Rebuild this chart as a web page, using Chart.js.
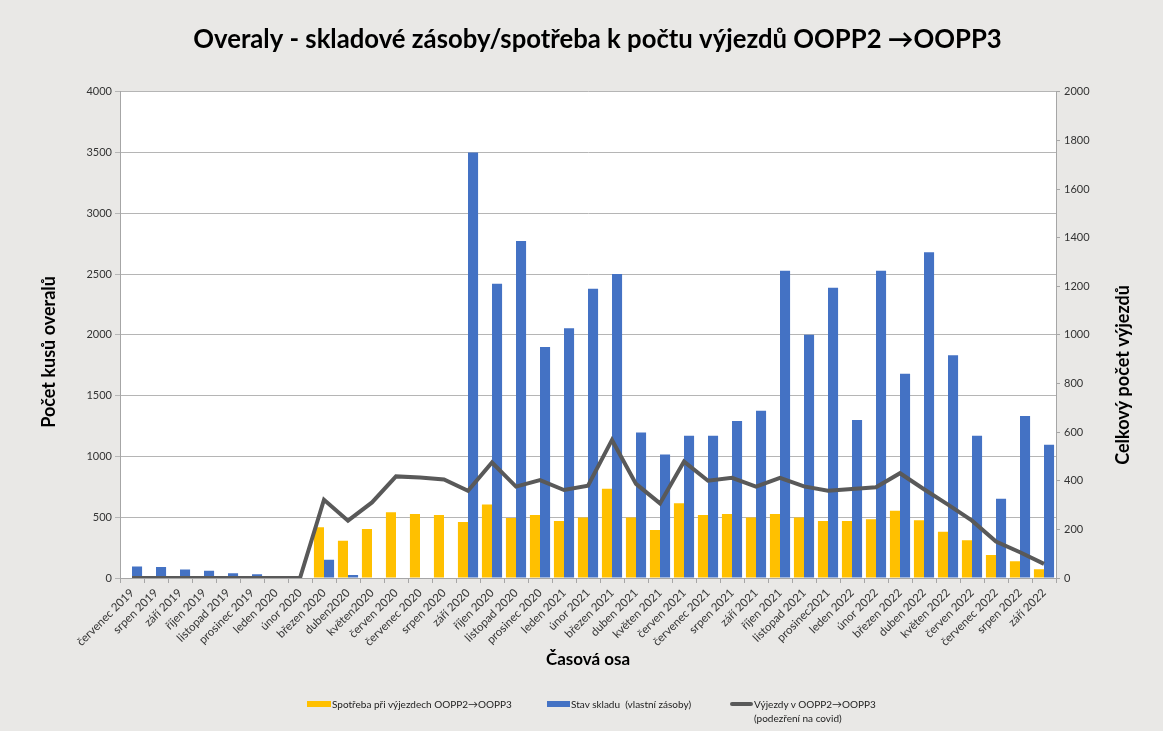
<!DOCTYPE html>
<html>
<head>
<meta charset="utf-8">
<script src="https://cdn.jsdelivr.net/npm/chart.js@4.4.1/dist/chart.umd.min.js"></script>
<style>
  html, body { margin: 0; padding: 0; background: #e9e8e6; }
  #wrap { position: relative; width: 1163px; height: 731px; }
  #legend { position: absolute; left: 0; top: 0; width: 1163px; height: 731px; pointer-events: none;
            font-family: Lato, sans-serif; font-size: 10px; color: #222; }
  .item { position: absolute; white-space: nowrap; line-height: 14px; }
  .sw { position: absolute; }
</style>
</head>
<body>
<div id="wrap">
  <canvas id="chart" width="1163" height="731"></canvas>
  <div id="legend">
    <div class="sw" style="left:307px;top:701px;width:24px;height:6px;background:#ffc000"></div>
    <div class="item" style="left:332px;top:697px">Spotřeba při výjezdech OOPP2→OOPP3</div>
    <div class="sw" style="left:547px;top:701px;width:23px;height:6px;background:#4472c4"></div>
    <div class="item" style="left:571px;top:697px">Stav skladu&nbsp; (vlastní zásoby)</div>
    <div class="sw" style="left:730px;top:702px;width:23px;height:4px;background:#595959;border-radius:2px"></div>
    <div class="item" style="left:754px;top:697px">Výjezdy v OOPP2→OOPP3<br>(podezření na covid)</div>
  </div>
</div>
<script>
const categories = [
  'červenec 2019', 'srpen 2019', 'září 2019', 'říjen 2019', 'listopad 2019', 'prosinec 2019',
  'leden 2020', 'únor 2020', 'březen 2020', 'duben2020', 'květen2020', 'červen 2020',
  'červenec 2020', 'srpen 2020', 'září 2020', 'říjen 2020', 'listopad 2020', 'prosinec 2020',
  'leden 2021', 'únor 2021', 'březen 2021', 'duben 2021', 'květen 2021', 'červen 2021',
  'červenec 2021', 'srpen 2021', 'září 2021', 'říjen 2021', 'listopad 2021', 'prosinec2021',
  'leden 2022', 'únor 2022', 'březen 2022', 'duben 2022', 'květen 2022', 'červen 2022',
  'červenec 2022', 'srpen 2022', 'září 2022'
];

// Spotřeba při výjezdech (levá osa)
const spotreba = [
  0, 0, 0, 0, 0, 0, 0, 0, 417, 307, 403, 540,
  527, 518, 461, 604, 494, 518, 469, 497, 735, 497, 395, 614,
  518, 527, 497, 527, 497, 469, 469, 483, 554, 475, 381, 310,
  189, 137, 71
];

// Stav skladu (levá osa)
const sklad = [
  95, 90, 70, 60, 40, 30, 0, 0, 150, 25, 0, 0,
  0, 0, 3500, 2420, 2773, 1900, 2055, 2380, 2502, 1198, 1017, 1171,
  1171, 1292, 1377, 2527, 2002, 2389, 1300, 2527, 1681, 2680, 1833, 1171,
  652, 1333, 1097
];

// Výjezdy (pravá osa)
const vyjezdy = [
  0, 0, 0, 0, 0, 0, 0, 0, 322, 236, 311, 418,
  413, 405, 359, 475, 376, 403, 362, 380, 568, 387, 307, 479,
  400, 412, 376, 412, 377, 359, 366, 373, 431, 365, 302, 236,
  150, 106, 58
];

const leftMax = 4000, leftStep = 500;
const rightMax = 2000, rightStep = 200;

const chartTitle = 'Overaly - skladové zásoby/spotřeba k počtu výjezdů OOPP2 →OOPP3';
const leftTitle = 'Počet kusů overalů';
const rightTitle = 'Celkový počet výjezdů';

const FONT = 'Lato, "Open Sans", sans-serif';
const AXIS = '#a6a6a6';

const plotBg = {
  id: 'plotBg',
  beforeDraw(chart) {
    const { ctx, chartArea: a } = chart;
    ctx.save();
    ctx.fillStyle = '#ffffff';
    ctx.fillRect(a.left, a.top, a.right - a.left, a.bottom - a.top);
    ctx.restore();
  }
};

// both y titles read bottom-to-top, like in Excel
const axisTitles = {
  id: 'axisTitles',
  afterDraw(chart) {
    const ctx = chart.ctx;
    const a = chart.chartArea;
    const mid = (a.top + a.bottom) / 2;
    ctx.save();
    ctx.font = 'bold 18px ' + FONT;
    ctx.fillStyle = '#000';
    ctx.textAlign = 'center';
    ctx.textBaseline = 'middle';
    [[a.left - 71, mid + 17, leftTitle], [a.right + 67, mid + 40, rightTitle]].forEach(([x, y, t]) => {
      ctx.save();
      ctx.translate(x, y);
      ctx.rotate(-Math.PI / 2);
      ctx.fillText(t, 0, 0);
      ctx.restore();
    });
    ctx.restore();
  }
};

new Chart(document.getElementById('chart'), {
  type: 'bar',
  data: {
    labels: categories,
    datasets: [
      {
        type: 'line',
        label: 'Výjezdy v OOPP2→OOPP3 (podezření na covid)',
        data: vyjezdy,
        yAxisID: 'y1',
        borderColor: '#595959',
        borderWidth: 4,
        pointRadius: 0,
        tension: 0,
        order: 0
      },
      {
        label: 'Spotřeba při výjezdech OOPP2→OOPP3',
        data: spotreba,
        backgroundColor: '#ffc000',
        yAxisID: 'y',
        order: 1
      },
      {
        label: 'Stav skladu (vlastní zásoby)',
        data: sklad,
        backgroundColor: '#4472c4',
        yAxisID: 'y',
        order: 1
      }
    ]
  },
  options: {
    responsive: false,
    animation: false,
    datasets: { bar: { barPercentage: 1, categoryPercentage: 0.84 } },
    layout: { padding: { left: 32, right: 0, top: 0, bottom: 53 } },
    plugins: {
      legend: { display: false },
      tooltip: { enabled: false },
      title: {
        display: true,
        text: chartTitle,
        color: '#000',
        font: { family: FONT, size: 25.7, weight: 'bold' },
        padding: { top: 24, bottom: 37 }
      }
    },
    scales: {
      x: {
        grid: { offset: true, drawOnChartArea: false, drawTicks: true, tickLength: 5, color: AXIS },
        border: { color: AXIS },
        ticks: {
          autoSkip: false, minRotation: 45, maxRotation: 45, padding: 3,
          color: '#333', font: { family: FONT, size: 11.5 }
        },
        title: {
          display: true, text: 'Časová osa', color: '#000',
          font: { family: FONT, size: 17, weight: 'bold' },
          padding: { top: 4, bottom: 8 }
        },
        afterFit(s) { s.height = 100; }
      },
      y: {
        position: 'left',
        min: 0, max: leftMax,
        grid: { color: '#b5b5b5', tickLength: 5 },
        border: { color: AXIS },
        ticks: {
          stepSize: leftStep, padding: 3, color: '#333', font: { family: FONT, size: 11 },
          callback: v => String(v)
        },
        afterFit(s) { s.width = 88; }
      },
      y1: {
        position: 'right',
        min: 0, max: rightMax,
        grid: { drawOnChartArea: false, tickLength: 4, color: AXIS },
        border: { color: AXIS },
        ticks: {
          stepSize: rightStep, padding: 4, color: '#333', font: { family: FONT, size: 11 },
          callback: v => String(v)
        },
        afterFit(s) { s.width = 107; }
      }
    }
  },
  plugins: [plotBg, axisTitles]
});
</script>
</body>
</html>
